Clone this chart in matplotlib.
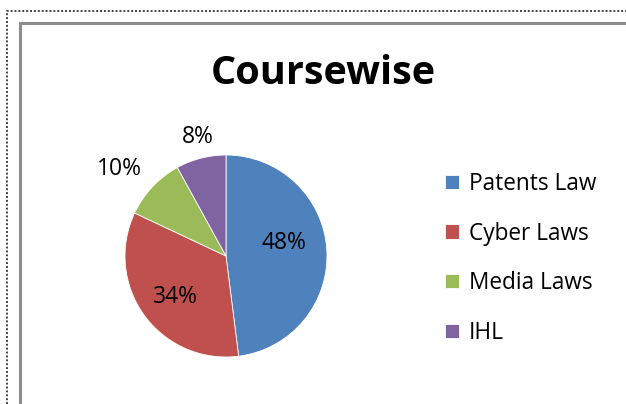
import numpy as np
import matplotlib
matplotlib.use('Agg')
import matplotlib.pyplot as plt
from matplotlib.patches import Rectangle

plt.rcParams['font.family'] = ['Open Sans', 'DejaVu Sans']

# data
courses = ['Patents Law', 'Cyber Laws', 'Media Laws', 'IHL']
shares = [48, 34, 10, 8]
colors = ['#4F81BD', '#C0504D', '#9BBB59', '#8064A2']
# label placement (radius as fraction of R) per slice
label_radius = [0.59, 0.64, 1.36, 1.21]
label_angle_shift = [9, 3, 4, -1]

W, H = 626, 404
fig = plt.figure(figsize=(W / 100, H / 100), dpi=100)

# borders
fig.patches.append(Rectangle((7 / W, -0.1), 1.2, (H - 11) / H + 0.1, transform=fig.transFigure,
                             fill=False, edgecolor='#444444', linewidth=1.4, linestyle=(0, (1, 1))))
fig.patches.append(Rectangle((20 / W, -0.1), 1.2, (H - 23) / H + 0.1, transform=fig.transFigure,
                             fill=False, edgecolor='#8c8c8c', linewidth=2.2))

# pie axes: centre (226, 256) px, radius 101 px
cx, cy, r = 226, 256, 101
ax = fig.add_axes([(cx - r) / W, (H - cy - r) / H, 2 * r / W, 2 * r / H])
wedges, _ = ax.pie(shares, colors=colors, startangle=90, counterclock=False,
                   wedgeprops=dict(edgecolor='white', linewidth=0.6))
ax.set_xlim(-1, 1)
ax.set_ylim(-1, 1)
ax.set_aspect('equal')

for w, val, rad, sh in zip(wedges, shares, label_radius, label_angle_shift):
    ang = np.deg2rad((w.theta1 + w.theta2) / 2 + sh)
    ax.text(rad * np.cos(ang), rad * np.sin(ang), f'{val}%', ha='center', va='center',
            fontsize=16.5, color='black', clip_on=False)

fig.text(323 / W, 1 - 74 / H, 'Coursewise', ha='center', va='center',
         fontsize=28.5, fontweight='bold')

fig.legend(wedges, courses, loc='upper left', bbox_to_anchor=(445 / W, 1 - 172 / H),
           frameon=False, fontsize=16.3, handlelength=0.6, handleheight=0.6,
           handletextpad=0.45, labelspacing=1.13, borderpad=0, borderaxespad=0)

fig.savefig('out.png', dpi=100)
